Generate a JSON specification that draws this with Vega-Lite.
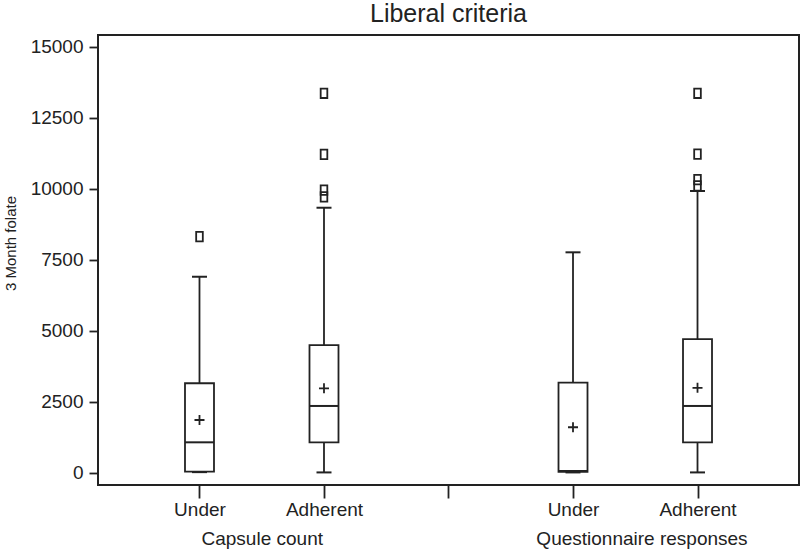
{
  "$schema": "https://vega.github.io/schema/vega-lite/v6.json",
  "width": 701,
  "height": 450,
  "autosize": {"type": "none"},
  "padding": {"left": 98, "top": 35, "right": 1, "bottom": 72},
  "background": "white",
  "title": {
    "text": "Liberal criteria",
    "font": "Liberation Sans",
    "fontSize": 25,
    "fontWeight": "normal",
    "color": "#222",
    "anchor": "middle",
    "frame": "group",
    "baseline": "alphabetic",
    "offset": 15,
    "dy": 27
  },
  "datasets": {
    "stats": [
      {"pos": 1, "group": "Capsule count", "status": "Under", "lower": 20, "q1": 40, "median": 1070, "q3": 3150, "upper": 6900, "mean": 1855},
      {"pos": 2, "group": "Capsule count", "status": "Adherent", "lower": 10, "q1": 1070, "median": 2350, "q3": 4495, "upper": 9330, "mean": 2970},
      {"pos": 4, "group": "Questionnaire responses", "status": "Under", "lower": 10, "q1": 30, "median": 60, "q3": 3170, "upper": 7760, "mean": 1600},
      {"pos": 5, "group": "Questionnaire responses", "status": "Adherent", "lower": 10, "q1": 1070, "median": 2350, "q3": 4700, "upper": 9920, "mean": 2990}
    ],
    "outliers": [
      {"pos": 1, "value": 8310},
      {"pos": 2, "value": 13360},
      {"pos": 2, "value": 11210},
      {"pos": 2, "value": 9950},
      {"pos": 2, "value": 9710},
      {"pos": 5, "value": 13360},
      {"pos": 5, "value": 11220},
      {"pos": 5, "value": 10320},
      {"pos": 5, "value": 10100}
    ]
  },
  "resolve": {"axis": {"x": "independent"}},
  "layer": [
    {
      "data": {"name": "stats"},
      "mark": {"type": "rule", "stroke": "#222", "strokeWidth": 1.8},
      "encoding": {
        "x": {
          "field": "pos", "type": "quantitative",
          "scale": {"domain": [0.225, 5.775], "nice": false, "zero": false},
          "axis": {
            "values": [1, 2, 3, 4, 5],
            "labelExpr": "datum.value == 1 || datum.value == 4 ? 'Under' : (datum.value == 2 || datum.value == 5 ? 'Adherent' : '')",
            "title": null,
            "orient": "bottom",
            "domain": false,
            "grid": false,
            "ticks": true,
            "tickSize": 13,
            "tickWidth": 1.8,
            "tickColor": "#222",
            "labelFont": "Liberation Sans",
            "labelFontSize": 19,
            "labelColor": "#222",
            "labelPadding": 2,
            "labelBaseline": "top"
          }
        },
        "y": {
          "field": "lower", "type": "quantitative",
          "scale": {"domain": [-433, 15412], "nice": false, "zero": false},
          "axis": {
            "values": [0, 2500, 5000, 7500, 10000, 12500, 15000],
            "format": "d",
            "title": "3 Month folate",
            "titleFont": "Liberation Sans",
            "titleFontSize": 15,
            "titleFontWeight": "normal",
            "titleColor": "#222",
            "titleX": -80,
            "titleY": 208,
            "titleAlign": "center",
            "domain": false,
            "grid": false,
            "tickSize": 9,
            "tickWidth": 1.8,
            "tickColor": "#222",
            "labelFont": "Liberation Sans",
            "labelFontSize": 19,
            "labelColor": "#222",
            "labelPadding": 6
          }
        },
        "y2": {"field": "upper"}
      }
    },
    {
      "data": {"name": "stats"},
      "mark": {"type": "bar", "size": 29, "fill": "white", "stroke": "#222", "strokeWidth": 1.8},
      "encoding": {
        "x": {
          "field": "pos", "type": "quantitative",
          "scale": {"domain": [0.225, 5.775], "nice": false, "zero": false},
          "axis": {
            "values": [1.5, 4.55],
            "labelExpr": "datum.value < 3 ? 'Capsule count' : 'Questionnaire responses'",
            "title": null,
            "orient": "bottom",
            "domain": false,
            "grid": false,
            "ticks": false,
            "labelFont": "Liberation Sans",
            "labelFontSize": 19,
            "labelColor": "#222",
            "labelPadding": 44,
            "labelLimit": 0,
            "labelBaseline": "top"
          }
        },
        "y": {"field": "q1", "type": "quantitative", "scale": {"domain": [-433, 15412], "nice": false, "zero": false}},
        "y2": {"field": "q3"}
      }
    },
    {
      "data": {"name": "stats"},
      "mark": {"type": "tick", "orient": "horizontal", "size": 29, "thickness": 2, "color": "#222", "opacity": 1},
      "encoding": {
        "x": {"field": "pos", "type": "quantitative", "scale": {"domain": [0.225, 5.775], "nice": false, "zero": false}, "axis": null},
        "y": {"field": "median", "type": "quantitative", "scale": {"domain": [-433, 15412], "nice": false, "zero": false}}
      }
    },
    {
      "data": {"name": "stats"},
      "mark": {"type": "tick", "orient": "horizontal", "size": 15, "thickness": 2, "color": "#222", "opacity": 1},
      "encoding": {
        "x": {"field": "pos", "type": "quantitative", "scale": {"domain": [0.225, 5.775], "nice": false, "zero": false}, "axis": null},
        "y": {"field": "upper", "type": "quantitative", "scale": {"domain": [-433, 15412], "nice": false, "zero": false}}
      }
    },
    {
      "data": {"name": "stats"},
      "mark": {"type": "tick", "orient": "horizontal", "size": 15, "thickness": 2, "color": "#222", "opacity": 1},
      "encoding": {
        "x": {"field": "pos", "type": "quantitative", "scale": {"domain": [0.225, 5.775], "nice": false, "zero": false}, "axis": null},
        "y": {"field": "lower", "type": "quantitative", "scale": {"domain": [-433, 15412], "nice": false, "zero": false}}
      }
    },
    {
      "data": {"name": "stats"},
      "mark": {"type": "point", "shape": "M-1,0L1,0M0,-1L0,1", "size": 100, "filled": false, "stroke": "#222", "strokeWidth": 1.8, "opacity": 1},
      "encoding": {
        "x": {"field": "pos", "type": "quantitative", "scale": {"domain": [0.225, 5.775], "nice": false, "zero": false}, "axis": null},
        "y": {"field": "mean", "type": "quantitative", "scale": {"domain": [-433, 15412], "nice": false, "zero": false}}
      }
    },
    {
      "data": {"name": "outliers"},
      "mark": {"type": "point", "shape": "M-0.7,-1L0.7,-1L0.7,1L-0.7,1Z", "size": 90, "filled": false, "stroke": "#222", "strokeWidth": 1.8, "opacity": 1},
      "encoding": {
        "x": {"field": "pos", "type": "quantitative", "scale": {"domain": [0.225, 5.775], "nice": false, "zero": false}, "axis": null},
        "y": {"field": "value", "type": "quantitative", "scale": {"domain": [-433, 15412], "nice": false, "zero": false}}
      }
    }
  ],
  "config": {
    "view": {"stroke": "#222", "strokeWidth": 2},
    "axis": {"domain": false}
  }
}
